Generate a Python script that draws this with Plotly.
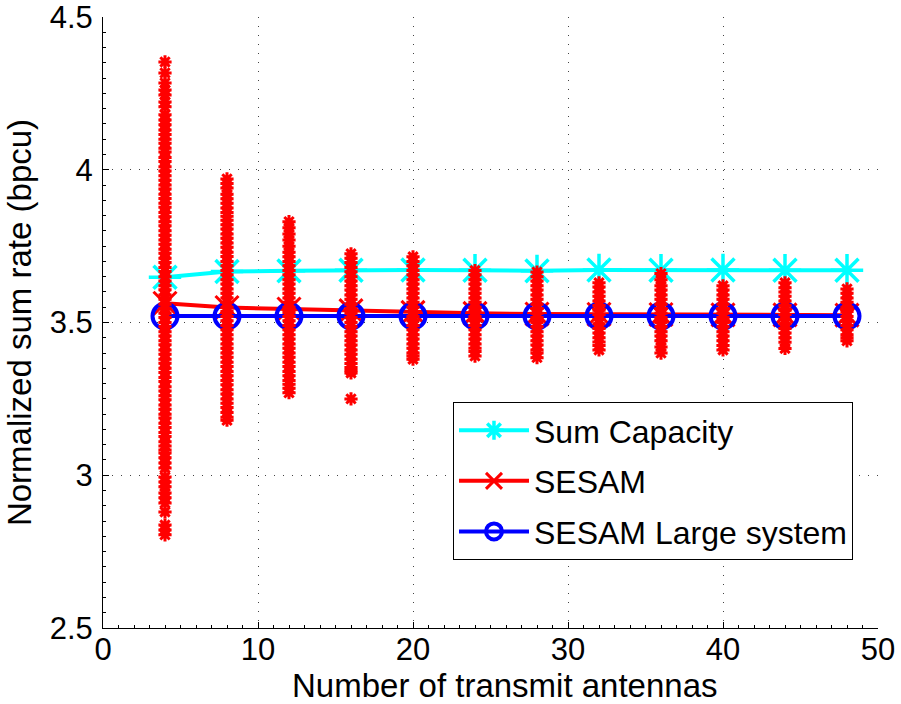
import plotly.graph_objects as go

# ---- data ----
antennas = [4, 8, 12, 16, 20, 24, 28, 32, 36, 40, 44, 48]
sum_capacity = [3.648, 3.667, 3.669, 3.671, 3.672, 3.671, 3.669, 3.672, 3.671, 3.672, 3.671, 3.671]
sesam = [3.563, 3.549, 3.544, 3.539, 3.533, 3.530, 3.528, 3.527, 3.526, 3.525, 3.525, 3.524]
sesam_large = [3.521, 3.521, 3.521, 3.521, 3.521, 3.521, 3.521, 3.521, 3.521, 3.521, 3.521, 3.521]

# individual channel realisations (SESAM)
samples_4 = [4.353, 4.317, 4.284, 4.261, 4.245, 4.222, 4.206, 4.18, 4.163, 4.147,
             4.13, 4.115, 4.10, 4.087, 4.07, 4.058, 4.04, 4.027, 4.01, 3.996, 3.98, 3.966,
             3.95, 3.937, 3.92, 3.906, 3.89, 3.877, 3.86, 3.846, 3.83, 3.817, 3.80, 3.786,
             3.77, 3.756, 3.74, 3.727, 3.71, 3.696, 3.68, 3.667, 3.65, 3.636, 3.62, 3.607,
             3.59, 3.576, 3.56, 3.547, 3.53, 3.516, 3.50, 3.487, 3.47, 3.456, 3.44, 3.427,
             3.41, 3.396, 3.38, 3.367, 3.35, 3.336, 3.32, 3.307, 3.29, 3.276, 3.26, 3.247,
             3.23, 3.216, 3.20, 3.187, 3.17, 3.156, 3.14, 3.127, 3.11, 3.096, 3.083, 3.073,
             3.057, 3.04, 3.024, 2.994, 2.978, 2.962, 2.942, 2.926, 2.909, 2.88, 2.837,
             2.821, 2.805]
samples_8 = [3.97, 3.955, 3.94, 3.92, 3.905, 3.89, 3.875, 3.86, 3.848,
             3.835, 3.82, 3.806, 3.79, 3.776, 3.76, 3.746, 3.73, 3.716, 3.70, 3.686,
             3.67, 3.656, 3.64, 3.626, 3.61, 3.596, 3.58, 3.566, 3.55, 3.536, 3.52,
             3.506, 3.49, 3.476, 3.46, 3.446, 3.43, 3.416, 3.40, 3.386, 3.37, 3.356,
             3.34, 3.326, 3.31, 3.296, 3.28, 3.266, 3.25, 3.236, 3.222, 3.205, 3.19, 3.18]
samples_12 = [3.83, 3.81, 3.79, 3.77, 3.75, 3.73, 3.715,
              3.70, 3.686, 3.67, 3.656, 3.64, 3.626, 3.61, 3.596, 3.58, 3.566, 3.55,
              3.536, 3.52, 3.506, 3.49, 3.476, 3.46, 3.446, 3.43, 3.416, 3.40, 3.386,
              3.37, 3.356, 3.34, 3.326, 3.31, 3.298, 3.285, 3.27]
samples_16 = [3.725, 3.71, 3.696, 3.68, 3.666, 3.65, 3.636, 3.62, 3.606, 3.59,
              3.576, 3.56, 3.546, 3.53, 3.516, 3.50, 3.486, 3.47, 3.456, 3.44, 3.426,
              3.41, 3.396, 3.38, 3.366, 3.353, 3.343, 3.335, 3.25]
samples_20 = [3.715, 3.70, 3.686, 3.67, 3.656, 3.64, 3.626, 3.61, 3.596, 3.58,
              3.566, 3.55, 3.536, 3.52, 3.506, 3.49, 3.476, 3.46, 3.446, 3.43, 3.416,
              3.40, 3.39, 3.38]
samples_24 = [3.67, 3.656, 3.64, 3.626, 3.61, 3.596, 3.58, 3.566, 3.55, 3.536,
              3.52, 3.506, 3.49, 3.476, 3.46, 3.446, 3.43, 3.416, 3.405, 3.39]
samples_28 = [3.665, 3.65, 3.636, 3.62, 3.606, 3.59, 3.576, 3.56, 3.546, 3.53,
              3.516, 3.50, 3.486, 3.47, 3.456, 3.44, 3.426, 3.41, 3.40, 3.385]
samples_32 = [3.63, 3.616, 3.60, 3.586, 3.57, 3.556, 3.54, 3.526, 3.51, 3.496,
              3.48, 3.466, 3.45, 3.436, 3.425, 3.41]
samples_36 = [3.66, 3.64, 3.62, 3.606, 3.59, 3.576, 3.56, 3.546, 3.53, 3.516,
              3.50, 3.486, 3.47, 3.456, 3.44, 3.42, 3.40]
samples_40 = [3.62, 3.606, 3.59, 3.576, 3.56, 3.546, 3.53, 3.516, 3.50, 3.486,
              3.47, 3.456, 3.44, 3.425, 3.41]
samples_44 = [3.63, 3.614, 3.60, 3.586, 3.57, 3.556, 3.54, 3.526, 3.51, 3.496,
              3.48, 3.466, 3.45, 3.435, 3.415]
samples_48 = [3.61, 3.596, 3.58, 3.566, 3.55, 3.536, 3.52, 3.506, 3.49, 3.476,
              3.46, 3.45, 3.44]

sample_sets = [samples_4, samples_8, samples_12, samples_16, samples_20, samples_24,
               samples_28, samples_32, samples_36, samples_40, samples_44, samples_48]

x_ticks = [0, 10, 20, 30, 40, 50]
y_ticks = [2.5, 3, 3.5, 4, 4.5]
y_tick_labels = ["2.5", "3", "3.5", "4", "4.5"]

x_title = "Number of transmit antennas"
y_title = "Normalized sum rate (bpcu)"
names = ["Sum Capacity", "SESAM", "SESAM Large system"]

FONT = "Liberation Sans, Arial, sans-serif"
CYAN, RED, BLUE = "#00FFFF", "#FF0000", "#0000FF"

fig = go.Figure()

fig.add_trace(go.Scatter(
    x=antennas, y=sum_capacity, name=names[0], legendgroup="a",
    mode="lines+markers",
    line=dict(color=CYAN, width=4),
    marker=dict(symbol="asterisk-open", size=27, color=CYAN, line=dict(color=CYAN, width=3.5)),
))
fig.add_trace(go.Scatter(
    x=antennas, y=sesam, name=names[1], legendgroup="b",
    mode="lines+markers",
    line=dict(color=RED, width=4),
    marker=dict(symbol="x-thin-open", size=23, color=RED, line=dict(color=RED, width=3)),
))
fig.add_trace(go.Scatter(
    x=antennas, y=sesam_large, name=names[2], legendgroup="c",
    mode="lines+markers",
    line=dict(color=BLUE, width=4),
    marker=dict(symbol="circle-open", size=25, color=BLUE, line=dict(color=BLUE, width=4)),
))

for xv, vals in zip(antennas, sample_sets):
    fig.add_trace(go.Scatter(
        x=[xv] * len(vals), y=vals, mode="markers", showlegend=False,
        hoverinfo="skip",
        marker=dict(symbol="asterisk-open", size=11, color=RED, line=dict(color=RED, width=3)),
    ))

axis_common = dict(
    showline=True, linecolor="black", linewidth=1,
    ticks="inside", ticklen=6, tickcolor="black", tickwidth=1,
    showgrid=True, gridcolor="#444444", gridwidth=1, griddash="1px,8px",
    zeroline=False, automargin=False, ticklabeloverflow="allow",
    tickfont=dict(family=FONT, size=31, color="black"),
)

fig.update_layout(
    width=901, height=704,
    margin=dict(l=103, r=23, t=17, b=76),
    paper_bgcolor="white", plot_bgcolor="white",
    font=dict(family=FONT, color="black"),
    xaxis=dict(range=[0, 50], tickmode="array", tickvals=x_ticks,
               minor=dict(ticks="inside", ticklen=3, dtick=1, tickcolor="black", showgrid=False),
               ticklabelstandoff=-6,
               **axis_common),
    yaxis=dict(range=[2.5, 4.5], tickmode="array", tickvals=y_ticks, ticktext=y_tick_labels,
               title=dict(text=y_title, font=dict(family=FONT, size=33), standoff=8),
               minor=dict(ticks="inside", ticklen=3, dtick=0.05, tickcolor="black", showgrid=False),
               ticklabelstandoff=3,
               **axis_common),
    legend=dict(x=0.4516, y=0.3700, xanchor="left", yanchor="top",
                bgcolor="white", bordercolor="black", borderwidth=1,
                font=dict(family=FONT, size=32, color="black"),
                tracegroupgap=6, itemwidth=70, traceorder="grouped"),
    showlegend=True,
    annotations=[dict(text=x_title, xref="paper", yref="paper",
                      x=(505 - 103) / 775, y=-(685.2 - 628) / 611, xanchor="center", yanchor="middle",
                      showarrow=False, font=dict(family=FONT, size=33, color="black"))],
)

fig.write_html("out.html")
